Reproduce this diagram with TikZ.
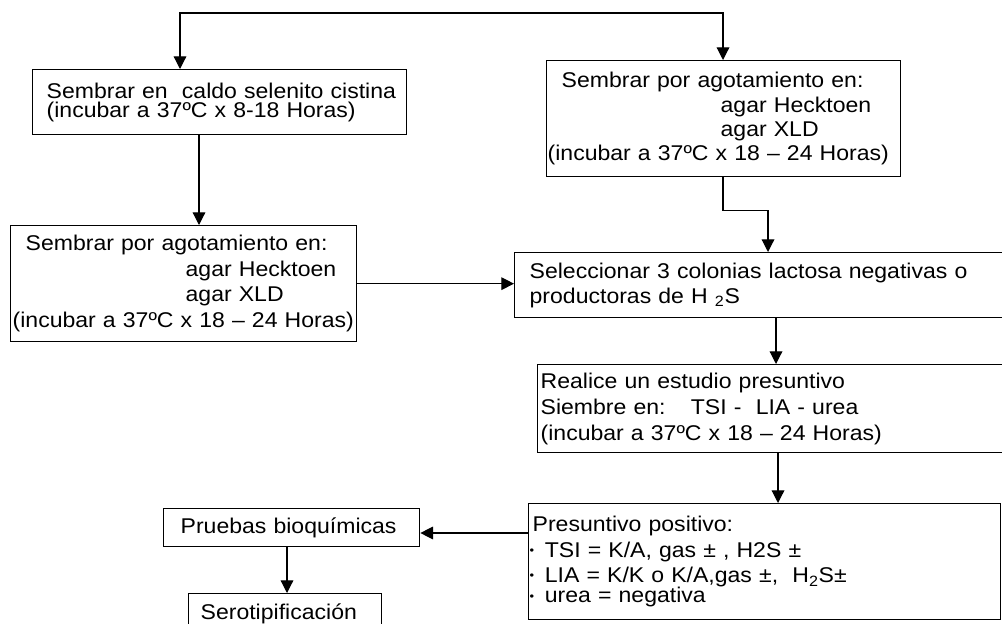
\documentclass[tikz,border=0pt]{standalone}
\usepackage{fontspec}
\setmainfont{Liberation Sans}[FakeStretch=1.08]
\usepackage{tikz}
\usetikzlibrary{
  arrows.meta, % Triangle arrow tips
  calc,        % anchor offsets
  positioning
}

\begin{document}
\begin{tikzpicture}[x=0.75pt, y=-0.75pt,
    box/.style={draw, line width=1pt, anchor=north west, align=left,
      inner xsep=0pt, inner ysep=0pt},
    arr/.style={line width=0.9pt, -{Triangle[length=9.5pt, width=9.5pt]}}]

  % =========== page frame ===========
  \useasboundingbox (0,0) rectangle (1002,624);
  \clip (0,0) rectangle (1002,624);

  % =========== boxes (pixel grid of the sheet) ===========
  % left column
  \node[box, text width=280.5pt, minimum height=48.75pt,
        font=\fontsize{16}{14.5}\selectfont] (selenito) at (32,69)
    {\hspace*{10.5pt}Sembrar en\ \ caldo selenito cistina\\
     \hspace*{10.5pt}(incubar a 37ºC x 8-18 Horas)};
  \node[box, text width=259.5pt, minimum height=87pt,
        font=\fontsize{16}{19.2}\selectfont] (agotL) at (10,225)
    {\hspace*{11.25pt}Sembrar por agotamiento en:\\
     \hspace*{131.25pt}agar Hecktoen\\
     \hspace*{131.25pt}agar XLD\\
     \hspace*{1.5pt}(incubar a 37ºC x 18 – 24 Horas)};

  % right column
  \node[box, text width=265.5pt, minimum height=87pt,
        font=\fontsize{16}{18.2}\selectfont] (agotR) at (546,60)
    {\hspace*{11.25pt}Sembrar por agotamiento en:\\
     \hspace*{130.5pt}agar Hecktoen\\
     \hspace*{130.5pt}agar XLD\\
     \hspace*{0.75pt}(incubar a 37ºC x 18 – 24 Horas)};
  \node[box, text width=372pt, minimum height=48.75pt,
        font=\fontsize{16}{18.75}\selectfont] (colonias) at (514,252)
    {\hspace*{11.25pt}Seleccionar 3 colonias lactosa negativas o\\
     \hspace*{11.25pt}productoras de H \textsubscript{2}S};
  \node[box, text width=354.75pt, minimum height=66pt,
        font=\fontsize{16}{19.5}\selectfont] (estudio) at (537,364)
    {\hspace*{2.25pt}Realice un estudio presuntivo\\
     \hspace*{2.25pt}Siembre en:\hspace{19pt}TSI -\ \ LIA - urea\\
     \hspace*{2.25pt}(incubar a 37ºC x 18 – 24 Horas)};
  \node[box, text width=354pt, minimum height=87pt,
        font=\fontsize{16}{19.2}\selectfont] (positivo) at (528,503)
    {\hspace*{3pt}Presuntivo positivo:\\
     \hspace*{0.75pt}\raisebox{2pt}{\small •}\hspace{8pt}TSI = K/A, gas ± , H2S ±\\
     \hspace*{0.75pt}\raisebox{2pt}{\small •}\hspace{8pt}LIA = K/K o K/A,gas ±,\ \ H\textsubscript{2}S±\\[-4pt]
     \hspace*{0.75pt}\raisebox{2pt}{\small •}\hspace{8pt}urea = negativa};

  % bottom left
  \node[box, text width=192pt, minimum height=28.5pt,
        font=\fontsize{16}{19}\selectfont] (bioq) at (163,508)
    {\hspace*{12.75pt}Pruebas bioquímicas};
  \node[box, text width=144.75pt, minimum height=30pt,
        font=\fontsize{16}{19}\selectfont] (sero) at (188,593)
    {\hspace*{9pt}Serotipificación};

  % =========== connectors ===========
  \coordinate (split) at (450,13);
  \draw[arr] (split) -| ($(selenito.north west)+(148,0)$);
  \draw[arr] (split) -| ($(agotR.north west)+(177,0)$);

  \draw[arr] ($(selenito.south west)+(167,0)$) -- ($(agotL.north west)+(189,0)$);
  \draw[arr] (agotL.east) -- (agotL.east -| colonias.west);

  \coordinate (bend) at ($(agotR.south west)+(177,33)$);
  \draw[arr] ($(agotR.south west)+(177,0)$) -- (bend)
    -| ($(colonias.north west)+(254,0)$);

  \draw[arr] ($(colonias.south west)+(262,0)$) -- ($(estudio.north west)+(239,0)$);
  \draw[arr] ($(estudio.south west)+(241,0)$) -- ($(positivo.north west)+(250,0)$);

  \coordinate (tap) at ($(positivo.north west)+(0,30)$);
  \draw[arr] (tap) -- (tap -| bioq.east);
  \draw[arr] ($(bioq.south west)+(124,0)$) -- ($(sero.north west)+(99,0)$);

\end{tikzpicture}
\end{document}
